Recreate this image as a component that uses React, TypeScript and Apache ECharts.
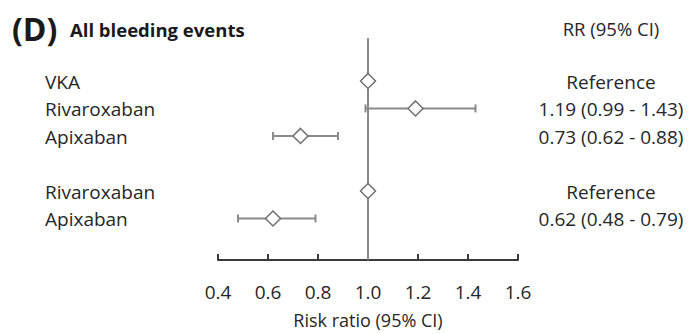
import React, { useEffect, useRef } from "react";
import * as echarts from "echarts";

const rowLabels = ["VKA", "Rivaroxaban", "Apixaban", "Rivaroxaban", "Apixaban"];
const rowPositions = [0, 1, 2, 4, 5];
const estimates = [1.0, 1.19, 0.73, 1.0, 0.62];
const lowerCI: (number | null)[] = [null, 0.99, 0.62, null, 0.48];
const upperCI: (number | null)[] = [null, 1.43, 0.88, null, 0.79];
const rrTexts = ["Reference", "1.19 (0.99 - 1.43)", "0.73 (0.62 - 0.88)", "Reference", "0.62 (0.48 - 0.79)"];
const xMin = 0.4;
const xMax = 1.6;
const xStep = 0.2;
const refValue = 1.0;
const yMin = -1.56;
const yMax = 6.51;

const FONT = "'Open Sans', 'DejaVu Sans', sans-serif";
const TEXT = "#262626";
const GREY = "#8a8a8a";

export default function App() {
  const ref = useRef<HTMLDivElement>(null);
  useEffect(() => {
    if (!ref.current) return;
    const chart = echarts.init(ref.current, undefined, { renderer: "svg" });
    const data = estimates.map((e, i) => [e, rowPositions[i], i]);
    chart.setOption({
      animation: false,
      grid: { left: 218, right: 176, top: 38, bottom: 74, containLabel: false },
      xAxis: {
        type: "value",
        min: xMin,
        max: xMax,
        interval: xStep,
        name: "Risk ratio (95% CI)",
        nameLocation: "middle",
        nameGap: 51,
        nameTextStyle: { color: TEXT, fontSize: 18, fontFamily: FONT },
        axisLine: { show: true, onZero: false, lineStyle: { color: "#3a3a3a", width: 2 } },
        axisTick: { show: true, inside: true, length: 6, lineStyle: { color: "#3a3a3a", width: 2 } },
        axisLabel: {
          color: TEXT,
          fontSize: 19,
          fontFamily: FONT,
          margin: 22,
          formatter: (v: number) => v.toFixed(1),
        },
        splitLine: { show: false },
      },
      yAxis: { type: "value", min: yMin, max: yMax, inverse: true, show: false },
      graphic: [
        { type: "text", x: 12, y: 28, style: { text: "(D)", fill: "#1a1a1a", font: `bold 32px ${FONT}`, verticalAlign: "middle" } },
        { type: "text", x: 70, y: 29, style: { text: "All bleeding events", fill: "#1a1a1a", font: `bold 18.5px ${FONT}`, verticalAlign: "middle" } },
        { type: "text", x: 611, y: 28, style: { text: "RR (95% CI)", fill: TEXT, font: `18.5px ${FONT}`, align: "center", verticalAlign: "middle" } },
      ],
      series: [
        {
          type: "line",
          z: 1,
          silent: true,
          symbol: "none",
          data: [[refValue, yMin], [refValue, yMax]],
          lineStyle: { color: GREY, width: 2 },
        },
        {
          type: "custom",
          z: 3,
          clip: false,
          data,
          encode: { x: 0, y: 1 },
          renderItem: (params: any, api: any) => {
            const idx = api.value(2);
            const est = api.value(0);
            const row = api.value(1);
            const [cx, cy] = api.coord([est, row]);
            const children: any[] = [];
            const lo = lowerCI[idx];
            const hi = upperCI[idx];
            if (lo != null && hi != null) {
              const x1 = api.coord([lo, row])[0];
              const x2 = api.coord([hi, row])[0];
              const ls = { stroke: GREY, lineWidth: 2 };
              children.push({ type: "line", shape: { x1, y1: cy, x2, y2: cy }, style: ls });
              children.push({ type: "line", shape: { x1, y1: cy - 4, x2: x1, y2: cy + 4 }, style: ls });
              children.push({ type: "line", shape: { x1: x2, y1: cy - 4, x2, y2: cy + 4 }, style: ls });
            }
            const d = 7.5;
            children.push({
              type: "polygon",
              shape: { points: [[cx, cy - d], [cx + d, cy], [cx, cy + d], [cx - d, cy]] },
              style: { fill: "#ffffff", stroke: "#707070", lineWidth: 1.5 },
            });
            children.push({
              type: "text",
              x: 45,
              y: cy + 1,
              style: { text: rowLabels[idx], fill: TEXT, font: `19px ${FONT}`, align: "left", verticalAlign: "middle" },
            });
            children.push({
              type: "text",
              x: 611,
              y: cy + 1,
              style: { text: rrTexts[idx], fill: TEXT, font: `19px ${FONT}`, align: "center", verticalAlign: "middle" },
            });
            return { type: "group", children };
          },
        },
      ],
    });
    return () => chart.dispose();
  }, []);
  return <div ref={ref} style={{ position: "absolute", left: 0, top: 0, width: 694, height: 334, background: "#fff" }} />;
}
